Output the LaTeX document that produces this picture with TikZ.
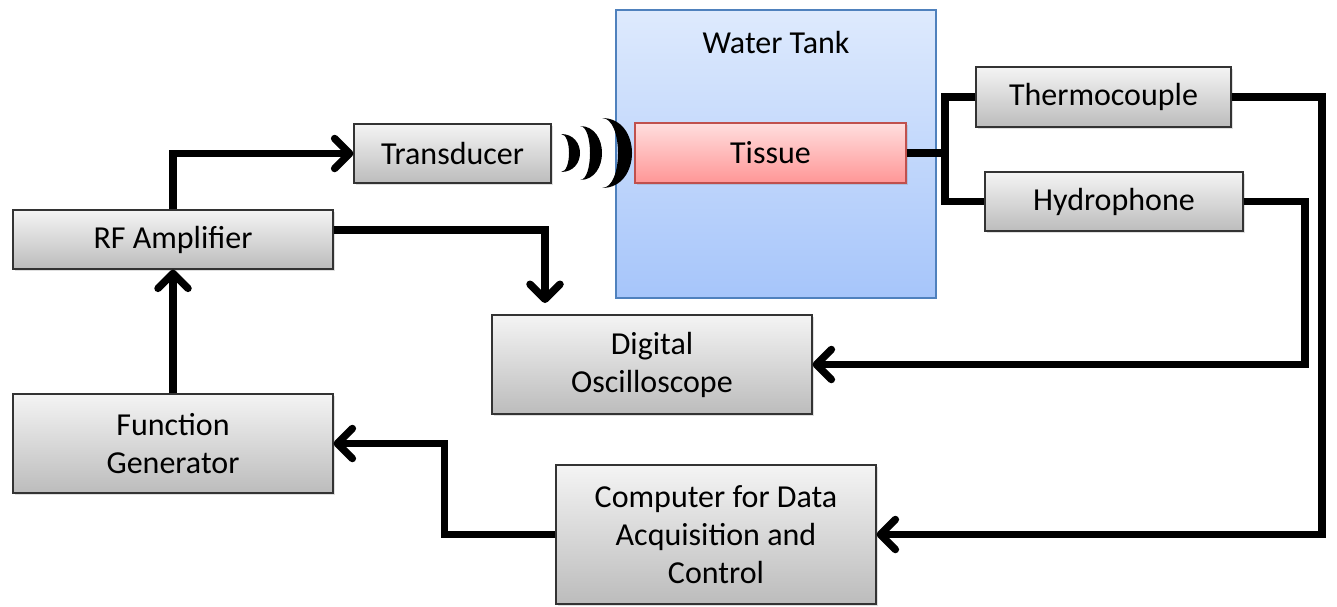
\documentclass[tikz,border=0pt]{standalone}
\usepackage{fontspec}
\setmainfont{Carlito}
\usepackage{tikz}
\usetikzlibrary{arrows.meta,shadows}
\definecolor{boxtop}{RGB}{244,244,244}
\definecolor{boxbot}{RGB}{188,188,188}
\definecolor{tanktop}{RGB}{222,234,253}
\definecolor{tankbot}{RGB}{166,197,250}
\definecolor{tankline}{RGB}{79,129,189}
\definecolor{tissuetop}{RGB}{255,222,222}
\definecolor{tissuebot}{RGB}{255,150,150}
\definecolor{tissueline}{RGB}{192,80,77}
% one crescent of the sound wave: left x, bulge, half height, thickness
\newcommand{\soundwave}[4]{%
\fill (#1,{153-#3}) .. controls ({#1+4*#2/3},{153-#3}) and ({#1+4*#2/3},{153+#3}) .. (#1,{153+#3})
  .. controls ({#1+4*(#2-#4)/3},{153+#3}) and ({#1+4*(#2-#4)/3},{153-#3}) .. cycle;}

\begin{document}
\begin{tikzpicture}[x=1pt, y=-1pt, font=\fontsize{32}{38}\selectfont,
  box/.style={rectangle, draw=black!80, line width=1.2pt, top color=boxtop, bottom color=boxbot,
    align=center, inner sep=0pt, drop shadow={opacity=0.25, shadow xshift=2pt, shadow yshift=-2pt}},
  link/.style={line width=7.5pt, black},
  arr/.style={link, -{Straight Barb[length=15pt,width=30pt,round]}}]
\useasboundingbox (0,0) rectangle (1337,606);

% Water tank with tissue
\node[rectangle, draw=tankline, line width=1.2pt, top color=tanktop, bottom color=tankbot,
  minimum width=320pt, minimum height=288pt] (tank) at (776,154) {};
\node (tanklabel) at (776,43) {Water Tank};
\node[box, draw=tissueline, top color=tissuetop, bottom color=tissuebot,
  minimum width=271pt, minimum height=60pt] (tissue) at (770.5,153) {Tissue};

% Instruments
\node[box, minimum width=197pt, minimum height=59pt] (trans) at (452.5,153.5) {Transducer};
\node[box, minimum width=320pt, minimum height=59pt] (rfamp) at (173,239.5) {RF Amplifier};
\node[box, minimum width=320pt, minimum height=99pt] (funcgen) at (173,443.5) {Function\\Generator};
\node[box, minimum width=320pt, minimum height=99pt] (scope) at (652,364.5) {Digital\\Oscilloscope};
\node[box, minimum width=320pt, minimum height=139pt] (comp) at (716,534.5) {Computer for Data\\Acquisition and\\Control};
\node[box, minimum width=255pt, minimum height=60pt] (thermo) at (1103.5,97) {Thermocouple};
\node[box, minimum width=258pt, minimum height=59pt] (hydro) at (1114,201.5) {Hydrophone};

% Sound waves
\soundwave{561}{19}{19}{11}
\soundwave{580}{22}{27}{12}
\soundwave{602}{30}{35}{14}

% Connections
\coordinate (junc) at (945,153);
\coordinate (scopein) at (545,303);
\coordinate (thermoturn) at (1322,534.5);
\coordinate (hydroturn) at (1305,364.5);
\draw[arr] (rfamp.north) |- (trans.west);
\draw[arr] ([yshift=9.5pt]rfamp.east) -| (scopein);
\draw[arr] (funcgen.north) -- (rfamp.south);
\draw[link] (tissue.east) -- (junc);
\draw[link] (thermo.west) -| (junc) |- (hydro.west);
\draw[arr] (thermo.east) -| (thermoturn) -- (comp.east);
\draw[arr] (hydro.east) -| (hydroturn) -- (scope.east);
\draw[arr] (comp.west) -- ++(-111,0) |- (funcgen.east);
\end{tikzpicture}
\end{document}
